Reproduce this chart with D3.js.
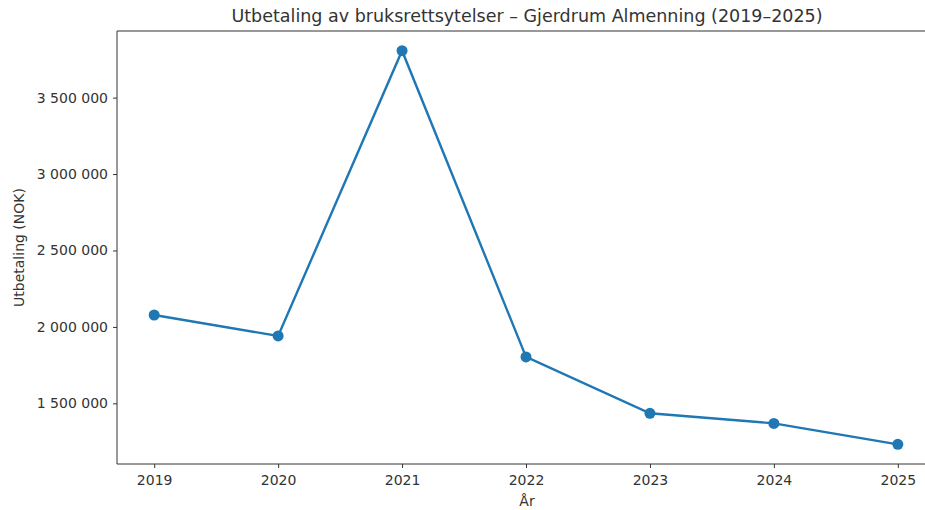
<!DOCTYPE html>
<html>
<head>
<meta charset="utf-8">
<script src="https://cdn.jsdelivr.net/npm/d3@7"></script>
<style>
  body { margin: 0; background: #fff; overflow: hidden; }
  svg { display: block; overflow: hidden; }
  text { font-family: 'DejaVu Sans', sans-serif; fill: #333; }
</style>
</head>
<body>
<div id="chart"></div>
<script>
const years = [2019, 2020, 2021, 2022, 2023, 2024, 2025];
const payouts = [2078000, 1941000, 3807000, 1804000, 1435000, 1369000, 1232000];
const yTicks = [1500000, 2000000, 2500000, 3000000, 3500000];

const svgWidth = 925;
const svgHeight = 510;
const margin = { top: 31, right: -10, bottom: 46, left: 117 };
const chartWidth = svgWidth - margin.left - margin.right;
const chartHeight = svgHeight - margin.top - margin.bottom;

const svg = d3.select('#chart').append('svg')
  .attr('width', svgWidth)
  .attr('height', svgHeight);

const chartGroup = svg.append('g')
  .attr('transform', `translate(${margin.left}, ${margin.top})`);

// matplotlib style 5% padding
const xPad = (d3.max(years) - d3.min(years)) * 0.05;
const xScale = d3.scaleLinear()
  .domain([d3.min(years) - xPad, d3.max(years) + xPad])
  .range([0, chartWidth]);

const yMin = d3.min(payouts), yMax = d3.max(payouts);
const yPad = (yMax - yMin) * 0.05;
const yScale = d3.scaleLinear()
  .domain([yMin - yPad, yMax + yPad])
  .range([chartHeight, 0]);

const fmt = (v) => d3.format(',')(v).replace(/,/g, ' ');

const xAxis = chartGroup.append('g')
  .attr('transform', `translate(0, ${chartHeight})`)
  .call(d3.axisBottom(xScale).tickValues(years).tickFormat(d3.format('d')).tickSize(4).tickPadding(7).tickSizeOuter(0));

const yAxis = chartGroup.append('g')
  .call(d3.axisLeft(yScale).tickValues(yTicks).tickFormat(fmt).tickSize(4).tickPadding(5).tickSizeOuter(0));

[xAxis, yAxis].forEach((a) => {
  a.select('.domain').remove();
  a.selectAll('.tick line').attr('stroke', '#333');
  a.selectAll('.tick text').attr('font-size', '14px').attr('fill', '#333')
    .style('font-family', "'DejaVu Sans', sans-serif");
});

// frame: the right side runs past the picture edge
const frameRight = svgWidth - margin.left + 5;
chartGroup.append('path')
  .attr('d', `M${frameRight},0H0V${chartHeight}H${frameRight}`)
  .attr('fill', 'none')
  .attr('stroke', '#333')
  .attr('stroke-width', 1);

const line = d3.line()
  .x((d, i) => xScale(years[i]))
  .y((d) => yScale(d));

chartGroup.append('path')
  .datum(payouts)
  .attr('fill', 'none')
  .attr('stroke', '#1f77b4')
  .attr('stroke-width', 2.4)
  .attr('d', line);

chartGroup.selectAll('circle')
  .data(payouts)
  .enter()
  .append('circle')
  .attr('cx', (d, i) => xScale(years[i]))
  .attr('cy', (d) => yScale(d))
  .attr('r', 5.5)
  .attr('fill', '#1f77b4');

svg.append('text')
  .attr('x', 527)
  .attr('y', 22)
  .attr('text-anchor', 'middle')
  .attr('font-size', '17.5px')
  .text('Utbetaling av bruksrettsytelser – Gjerdrum Almenning (2019–2025)');

svg.append('text')
  .attr('x', 527)
  .attr('y', 506)
  .attr('text-anchor', 'middle')
  .attr('font-size', '14px')
  .text('År');

svg.append('text')
  .attr('transform', `translate(24, ${margin.top + chartHeight / 2}) rotate(-90)`)
  .attr('text-anchor', 'middle')
  .attr('font-size', '14px')
  .text('Utbetaling (NOK)');
</script>
</body>
</html>
